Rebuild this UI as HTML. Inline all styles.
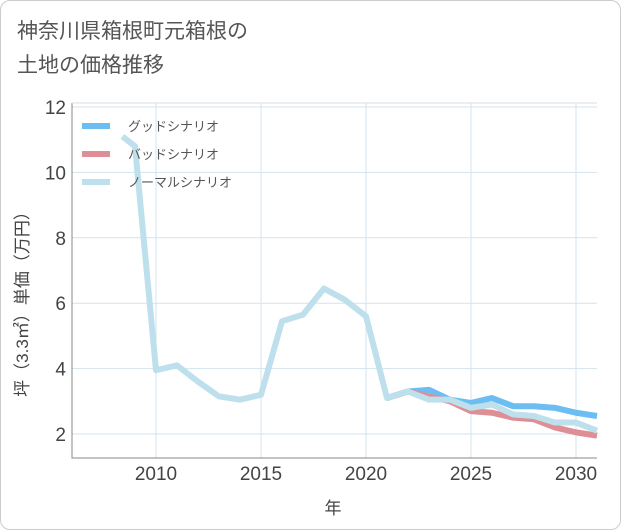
<!DOCTYPE html>
<html><head><meta charset="utf-8"><style>
body{margin:0;background:#fff}
#wrap{position:relative;width:619px;height:528px;border:1px solid #ccc;border-radius:10px;background:#fff;overflow:hidden;font-family:"Liberation Sans","Noto Sans CJK JP",sans-serif}
#title{position:absolute;left:16px;top:14px;font-size:21px;line-height:34px;color:#555}
</style></head><body>
<div id="wrap">
<div id="title">神奈川県箱根町元箱根の<br>土地の価格推移</div>
<svg id="chart" width="621" height="530" style="position:absolute;left:-1px;top:-1px"></svg>
</div>
<script>
const normalYears=[2008.4,2009,2010,2011,2012,2013,2014,2015,2016,2017,2018,2019,2020,2021,2022,2023,2024,2025,2026,2027,2028,2029,2030,2031];
const normalVals=[11.1,10.8,3.95,4.1,3.6,3.15,3.05,3.2,5.45,5.65,6.45,6.1,5.6,3.1,3.3,3.05,3.05,2.8,2.9,2.6,2.55,2.35,2.35,2.1];
const scenYears=[2021,2022,2023,2024,2025,2026,2027,2028,2029,2030,2031];
const goodVals=[3.1,3.3,3.35,3.05,2.95,3.1,2.85,2.85,2.8,2.65,2.55];
const badVals=[3.1,3.3,3.15,3.0,2.7,2.65,2.5,2.45,2.2,2.05,1.95];
const xTicks=[2010,2015,2020,2025,2030];
const yTicks=[2,4,6,8,10,12];
const svg=document.getElementById('chart');const NS='http://www.w3.org/2000/svg';
const L=72,R=597,T=103,B=458;
const x=v=>156+(v-2010)*21;
const y=v=>434-(v-2)*32.7;
function mk(t,a){const e=document.createElementNS(NS,t);for(const k in a)e.setAttribute(k,a[k]);svg.appendChild(e);return e;}
yTicks.forEach(v=>{const g=mk('line',{x1:L,x2:R,y1:y(v),y2:y(v),stroke:'#d3e3ee','stroke-width':1});


const t=mk('text',{x:L-6,y:y(v)+7,'text-anchor':'end','font-size':19,fill:'#444'});t.textContent=v;

});
xTicks.forEach(v=>{const g=mk('line',{x1:x(v),x2:x(v),y1:T,y2:B,stroke:'#d3e3ee','stroke-width':1});


const t=mk('text',{x:x(v),y:B+22,'text-anchor':'middle','font-size':19,fill:'#444'});t.textContent=v;

});
const fr=mk('path',{d:`M${L} ${T}V${B}H${R}`,fill:'none',stroke:'#888','stroke-width':1});


const tl=mk('line',{x1:L,x2:R,y1:T,y2:T,stroke:'#ddd'});


function series(xs,vs,c,name){const p=mk('polyline',{points:xs.map((v,i)=>x(v)+','+y(vs[i])).join(' '),fill:'none',stroke:c,'stroke-width':6,'stroke-linejoin':'round'});

}
svg.appendChild(Object.assign(document.createElementNS(NS,'clipPath'),{id:'c'}));
series(scenYears,goodVals,'#6bbdf2','good-scenario-line');
series(scenYears,badVals,'#de8e95','bad-scenario-line');
series(normalYears,normalVals,'#bde0ec','normal-scenario-line');
const cover=mk('rect',{x:R+1,y:T,width:30,height:B-T+2,fill:'#fff'});


const leg=[['グッドシナリオ','#6bbdf2'],['バッドシナリオ','#de8e95'],['ノーマルシナリオ','#bde0ec']];
leg.forEach((l,i)=>{const yy=126+i*28;const s=mk('line',{x1:82,x2:110,y1:yy,y2:yy,stroke:l[1],'stroke-width':6});


const t=mk('text',{x:128,y:yy+5,'font-size':13,fill:'#555'});t.textContent=l[0];

});
const xl=mk('text',{x:333,y:514,'text-anchor':'middle','font-size':17,fill:'#444'});xl.textContent='年';


const yl=mk('text',{x:28,y:300,'text-anchor':'middle','font-size':17,fill:'#444',transform:'rotate(-90 28 300)'});yl.textContent='坪（3.3㎡）単価（万円）';


</script>
</body></html>
